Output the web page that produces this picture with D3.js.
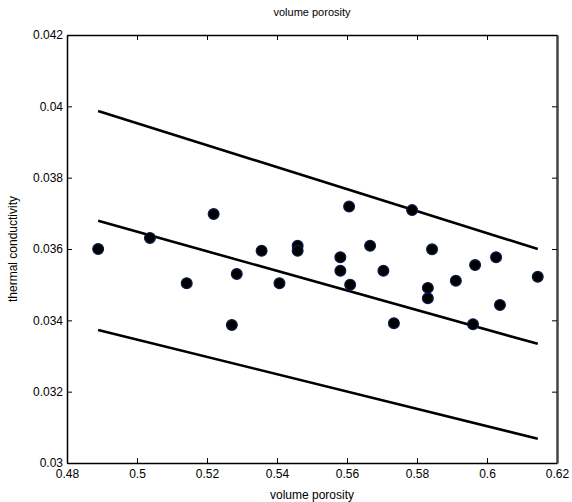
<!DOCTYPE html>
<html>
<head>
<meta charset="utf-8">
<script src="https://cdn.jsdelivr.net/npm/d3@7"></script>
<style>
  body { margin: 0; background: #fff; }
  svg { display: block; font-family: Arial, "Liberation Sans", sans-serif; }
</style>
</head>
<body>
<div id="chart"></div>
<script>
// measured points (volume porosity vs thermal conductivity)
var porosity = [0.4889, 0.5037, 0.5142, 0.5219, 0.5271, 0.5285, 0.5356, 0.5407,
    0.5459, 0.5459, 0.5581, 0.5581, 0.5606, 0.5609, 0.5666, 0.5704, 0.5734,
    0.5786, 0.5831, 0.5831, 0.5843, 0.5911, 0.5960, 0.5966, 0.6026, 0.6037, 0.6145];
var conductivity = [0.03600, 0.03631, 0.03504, 0.03698, 0.03387, 0.03530, 0.03595, 0.03504,
    0.03609, 0.03595, 0.03577, 0.03539, 0.03719, 0.03500, 0.03609, 0.03539, 0.03392,
    0.03709, 0.03491, 0.03462, 0.03599, 0.03511, 0.03389, 0.03555, 0.03577, 0.03443, 0.03522];

// fit line and bounds (start / end values)
var lineX = [0.4889, 0.6145];
var upperY = [0.03987, 0.03600];
var fitY = [0.03679, 0.03334];
var lowerY = [0.03373, 0.03068];

var xTicks = [0.48, 0.5, 0.52, 0.54, 0.56, 0.58, 0.6, 0.62];
var yTicks = [0.03, 0.032, 0.034, 0.036, 0.038, 0.04, 0.042];

var width = 572, height = 502;
var margin = {top: 35, right: 15, bottom: 39, left: 67};

var svg = d3.select("#chart").append("svg")
    .attr("width", width)
    .attr("height", height);

var x = d3.scaleLinear().domain([0.48, 0.62]).range([margin.left, width - margin.right]);
var y = d3.scaleLinear().domain([0.03, 0.042]).range([height - margin.bottom, margin.top]);

var fmt = function (d) { return String(+d.toFixed(3)); };

// axes (matlab style box with inward ticks)
svg.append("g")
    .attr("transform", "translate(0," + y.range()[0] + ")")
    .call(d3.axisBottom(x).tickValues(xTicks).tickFormat(fmt).tickSizeInner(-5).tickSizeOuter(0).tickPadding(6))
    .attr("class", "axis bottom");
svg.append("g")
    .attr("transform", "translate(0," + y.range()[1] + ")")
    .call(d3.axisTop(x).tickValues(xTicks).tickFormat("").tickSizeInner(-5).tickSizeOuter(0));
svg.append("g")
    .attr("transform", "translate(" + x.range()[0] + ",0)")
    .call(d3.axisLeft(y).tickValues(yTicks).tickFormat(fmt).tickSizeInner(-5).tickSizeOuter(0).tickPadding(4));
svg.append("g")
    .attr("transform", "translate(" + x.range()[1] + ",0)")
    .call(d3.axisRight(y).tickValues(yTicks).tickFormat("").tickSizeInner(-5).tickSizeOuter(0))
    .attr("class", "axis right");

svg.selectAll(".domain").attr("stroke", "#000").attr("stroke-width", 1.5);
svg.select(".right .domain").attr("stroke", "#444").attr("stroke-width", 2.5);
svg.selectAll(".tick line").attr("stroke", "#000");
svg.selectAll(".tick text").attr("fill", "#000").style("font-size", "12px");

// the three lines
var lines = [upperY, fitY, lowerY];
var lineGen = d3.line()
    .x(function (d, i) { return x(lineX[i]); })
    .y(function (d) { return y(d); });

svg.selectAll(".fit")
    .data(lines)
    .enter().append("path")
    .attr("class", "fit")
    .attr("d", lineGen)
    .attr("fill", "none")
    .attr("stroke", "#000")
    .attr("stroke-width", 2.6);

// scatter points
svg.selectAll(".dot")
    .data(porosity)
    .enter().append("circle")
    .attr("class", "dot")
    .attr("cx", function (d) { return x(d); })
    .attr("cy", function (d, i) { return y(conductivity[i]); })
    .attr("r", 5.4)
    .attr("fill", "#000")
    .attr("stroke", "#0b1a4d")
    .attr("stroke-width", 1.2);

// labels
var midX = (x.range()[0] + x.range()[1]) / 2;
svg.append("text")
    .attr("x", midX).attr("y", 16)
    .attr("text-anchor", "middle")
    .style("font-size", "11px")
    .text("volume porosity");
svg.append("text")
    .attr("x", midX).attr("y", 499)
    .attr("text-anchor", "middle")
    .style("font-size", "12px")
    .text("volume porosity");
svg.append("text")
    .attr("transform", "translate(17," + (y.range()[0] + y.range()[1]) / 2 + ") rotate(-90)")
    .attr("text-anchor", "middle")
    .style("font-size", "12px")
    .text("thermal conductivity");
</script>
</body>
</html>
